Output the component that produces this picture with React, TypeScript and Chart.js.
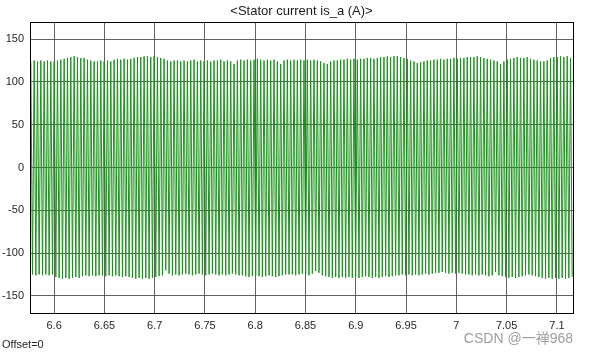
import React, { useEffect, useRef } from "react";
import { Chart, registerables } from "chart.js";

Chart.register(...registerables);

const TITLE = "<Stator current is_a (A)>";
const OFFSET_LABEL = "Offset=0";
const WATERMARK = "CSDN @一禅968";

const X_MIN = 6.576;
const X_MAX = 7.116;
const Y_MIN = -170;
const Y_MAX = 170;
const X_TICKS = [6.6, 6.65, 6.7, 6.75, 6.8, 6.85, 6.9, 6.95, 7, 7.05, 7.1];
const Y_TICKS = [-150, -100, -50, 0, 50, 100, 150];

// waveform start time and cycle period (s)
const START_TIME = 6.576;
const PERIOD = 0.003313;

// positive peak of each cycle (A)
const UPPER_PEAKS = [
  124, 125, 124, 125, 124, 125, 124, 124, 125, 126,
  127, 128, 129, 130, 129, 128, 128,
  126, 125, 124, 124, 125, 124, 125, 124,
  126, 127, 126, 127, 126, 127, 128, 129, 129,
  130, 130, 129, 130, 129, 128, 127,
  125, 124, 125, 125, 124, 125, 124, 125, 126, 124, 125,
  124, 125, 124, 125, 125, 126, 124, 125, 124, 121, 125, 126,
  125, 126, 125, 126, 127, 126, 125, 126, 125, 126, 124, 121, 125, 126, 125,
  126, 125, 126, 125, 126, 125, 126, 125, 124, 122, 121, 124, 125,
  125, 126, 126, 127, 126, 127, 126, 127, 127, 128, 128, 127, 128,
  129, 129, 130, 129, 130, 130, 129, 128, 127,
  125, 124, 122, 123, 124, 125, 125, 126, 126,
  127, 126, 127, 127, 128, 127, 128, 128, 129,
  129, 129, 130, 129, 128, 127, 126, 125, 124,
  121, 124, 126, 127, 128, 129, 128, 128, 129, 127, 126, 125,
  124, 124, 125, 128, 129, 129, 130, 129, 130, 128,
];

// negative peak of each cycle (A)
const LOWER_PEAKS = [
  -125, -126, -125, -126, -125, -126, -125,
  -128, -129, -130, -129, -130, -129, -128, -129,
  -127, -126, -127, -126, -127, -126, -126, -127, -126, -127, -126, -127, -128, -127, -128,
  -129, -130, -129, -130, -129, -130, -129, -128, -127,
  -126, -120, -124, -126,
  -125, -126, -125, -124, -125, -126, -125, -124, -125, -126, -125, -124, -125, -126, -125, -126, -125, -124, -125, -126,
  -126, -127, -128, -127, -126, -127, -128, -127, -126, -127, -128, -127, -126, -125, -125,
  -125, -126, -125, -124, -125, -126, -124, -121, -123, -126,
  -127, -128, -129, -128, -129, -128, -129, -128, -129, -128, -129, -128, -127, -128, -129, -128, -129, -128, -127, -128, -127, -126,
  -126, -125, -126, -125, -126, -125, -126, -125, -124, -125, -124, -123,
  -123, -122, -123, -124, -123, -124, -123, -124, -125,
  -125, -126, -125, -126, -125, -126, -127, -126, -122,
  -126, -127, -128, -129, -128, -129,
  -128, -127, -126, -125, -126, -127,
  -128, -129, -130, -129, -130, -129, -130, -129, -130, -129, -128,
];

function buildPoints() {
  const pts: { x: number; y: number }[] = [];
  const n = Math.min(UPPER_PEAKS.length, LOWER_PEAKS.length);
  for (let i = 0; i < n; i++) {
    const t = START_TIME + i * PERIOD;
    pts.push({ x: t + PERIOD * 0.25, y: UPPER_PEAKS[i] });
    pts.push({ x: t + PERIOD * 0.75, y: LOWER_PEAKS[i] });
  }
  return pts;
}

const decorPlugin = {
  id: "decor",
  afterDatasetsDraw(chart: any) {
    const { ctx, chartArea } = chart;
    ctx.save();
    ctx.strokeStyle = "#000000";
    ctx.lineWidth = 1;
    ctx.strokeRect(
      Math.round(chartArea.left) + 0.5,
      Math.round(chartArea.top) + 0.5,
      Math.round(chartArea.right - chartArea.left),
      Math.round(chartArea.bottom - chartArea.top)
    );
    ctx.restore();
  },
  afterDraw(chart: any) {
    const { ctx, chartArea } = chart;
    ctx.save();
    ctx.fillStyle = "#1a1a1a";
    ctx.font = "13px Arial, 'Liberation Sans', sans-serif";
    ctx.textAlign = "center";
    ctx.textBaseline = "middle";
    ctx.fillText(TITLE, (chartArea.left + chartArea.right) / 2, 11);
    ctx.font = "11px Arial, 'Liberation Sans', sans-serif";
    ctx.textAlign = "left";
    ctx.fillStyle = "#262626";
    ctx.fillText(OFFSET_LABEL, 2, 345);
    ctx.font = "14px Arial, 'Liberation Sans', 'Noto Sans CJK SC', sans-serif";
    ctx.textAlign = "right";
    ctx.fillStyle = "rgba(140,140,140,0.85)";
    ctx.fillText(WATERMARK, 573, 339);
    ctx.restore();
  },
};

export default function App() {
  const canvasRef = useRef<HTMLCanvasElement | null>(null);

  useEffect(() => {
    if (!canvasRef.current) return;
    const chart = new Chart(canvasRef.current, {
      type: "line",
      data: {
        datasets: [
          {
            data: buildPoints(),
            borderColor: "#1a921a",
            borderWidth: 1,
            pointRadius: 0,
            tension: 0,
            fill: false,
          },
        ],
      },
      options: {
        animation: false,
        responsive: false,
        maintainAspectRatio: false,
        layout: { padding: { top: 22, right: 16, bottom: 0, left: 0 } },
        plugins: {
          legend: { display: false },
          tooltip: { enabled: false },
          title: { display: false },
        },
        scales: {
          x: {
            type: "linear",
            min: X_MIN,
            max: X_MAX,
            afterBuildTicks: (axis: any) => {
              axis.ticks = X_TICKS.map((v) => ({ value: v }));
            },
            afterFit: (axis: any) => {
              axis.height = 42;
            },
            ticks: {
              padding: 6,
              color: "#262626",
              font: { family: "Arial, 'Liberation Sans', sans-serif", size: 11 },
              maxRotation: 0,
              autoSkip: false,
              callback: (v: any) => String(Math.round(Number(v) * 100) / 100),
            },
            grid: { color: "rgba(70,70,70,0.85)", lineWidth: 1, drawTicks: false },
            border: { display: true, color: "#000000" },
          },
          y: {
            min: Y_MIN,
            max: Y_MAX,
            afterBuildTicks: (axis: any) => {
              axis.ticks = Y_TICKS.map((v) => ({ value: v }));
            },
            afterFit: (axis: any) => {
              axis.width = 30;
            },
            ticks: {
              padding: 6,
              color: "#262626",
              font: { family: "Arial, 'Liberation Sans', sans-serif", size: 11 },
            },
            grid: { color: "rgba(70,70,70,0.85)", lineWidth: 1, drawTicks: false },
            border: { display: true, color: "#000000" },
          },
        },
      },
      plugins: [decorPlugin],
    });
    return () => chart.destroy();
  }, []);

  return (
    <div style={{ position: "fixed", left: 0, top: 0, width: 589, height: 355, background: "#ffffff" }}>
      <canvas ref={canvasRef} width={589} height={355} style={{ display: "block" }} />
    </div>
  );
}
